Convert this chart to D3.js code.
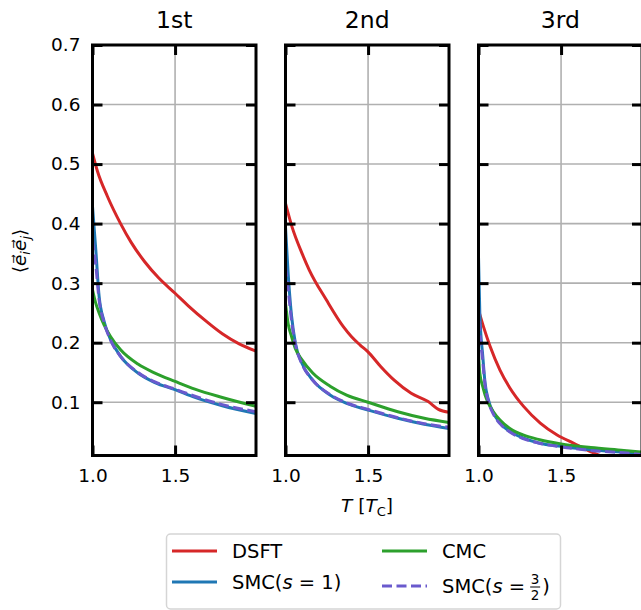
<!DOCTYPE html>
<html>
<head>
<meta charset="utf-8">
<script src="https://cdn.jsdelivr.net/npm/d3@7"></script>
<style>
  body { margin: 0; background: #fff; }
  text { font-family: "DejaVu Sans", sans-serif; fill: #000; }
</style>
</head>
<body>
<div id="chart"></div>
<script>
// panel titles and legend entries
var panels = ["1st", "2nd", "3rd"];
var seriesNames = ["DSFT", "SMC(s=1)", "CMC", "SMC(s=3/2)"];
var seriesColors = ["#d62728", "#1f77b4", "#2ca02c", "#6a5acd"];
var yTicks = [0.1, 0.2, 0.3, 0.4, 0.5, 0.6, 0.7];
var xTicks = [1.0, 1.5];

// values, [T, <e_i e_j>]
var dsft1 = [[1.0,0.518],[1.03,0.488],[1.09,0.446],[1.17,0.40],[1.235,0.368],[1.316,0.336],[1.40,0.309],[1.5,0.283],[1.58,0.262],[1.684,0.237],[1.786,0.215],[1.888,0.198],[1.99,0.186]];
var smcA1 = [[1.0,0.429],[1.02,0.356],[1.04,0.278],[1.07,0.236],[1.11,0.205],[1.17,0.177],[1.275,0.149],[1.378,0.133],[1.5,0.121],[1.62,0.108],[1.786,0.094],[1.99,0.081]];
var cmc1 = [[1.0,0.289],[1.02,0.266],[1.04,0.25],[1.07,0.23],[1.11,0.21],[1.17,0.188],[1.275,0.164],[1.378,0.149],[1.5,0.135],[1.62,0.122],[1.786,0.108],[1.99,0.093]];
var smcB1 = [[1.0,0.372],[1.02,0.33],[1.04,0.272],[1.07,0.234],[1.11,0.204],[1.17,0.177],[1.275,0.150],[1.378,0.134],[1.5,0.122],[1.62,0.110],[1.786,0.096],[1.99,0.084]];

var dsft2 = [[1.0,0.434],[1.04,0.394],[1.10,0.35],[1.144,0.322],[1.247,0.272],[1.35,0.227],[1.40,0.210],[1.452,0.196],[1.498,0.185],[1.576,0.160],[1.658,0.137],[1.761,0.115],[1.864,0.101],[1.926,0.088],[1.99,0.083]];
var smcA2 = [[1.0,0.394],[1.016,0.316],[1.037,0.244],[1.06,0.199],[1.10,0.165],[1.165,0.137],[1.27,0.112],[1.37,0.098],[1.5,0.087],[1.68,0.073],[1.84,0.063],[1.99,0.056]];
var cmc2 = [[1.0,0.266],[1.016,0.232],[1.037,0.21],[1.06,0.19],[1.10,0.171],[1.165,0.149],[1.27,0.127],[1.37,0.112],[1.5,0.10],[1.68,0.084],[1.84,0.073],[1.99,0.066]];
var smcB2 = [[1.0,0.327],[1.016,0.29],[1.037,0.236],[1.06,0.197],[1.10,0.164],[1.165,0.137],[1.27,0.113],[1.37,0.099],[1.5,0.088],[1.68,0.074],[1.84,0.064],[1.99,0.058]];

var dsft3 = [[1.0,0.255],[1.03,0.227],[1.07,0.194],[1.13,0.154],[1.19,0.124],[1.273,0.093],[1.374,0.065],[1.476,0.045],[1.577,0.031],[1.678,0.017],[1.75,0.009],[1.85,0.004]];
var smcA3 = [[1.0,0.345],[1.008,0.25],[1.026,0.177],[1.04,0.132],[1.06,0.104],[1.09,0.082],[1.13,0.065],[1.19,0.051],[1.27,0.040],[1.37,0.031],[1.5,0.026],[1.68,0.020],[1.88,0.016],[1.99,0.013]];
var cmc3 = [[1.0,0.182],[1.008,0.149],[1.026,0.126],[1.04,0.112],[1.06,0.098],[1.09,0.084],[1.13,0.070],[1.19,0.056],[1.27,0.045],[1.37,0.037],[1.5,0.030],[1.68,0.024],[1.88,0.019],[1.99,0.016]];
var smcB3 = [[1.0,0.261],[1.008,0.22],[1.026,0.168],[1.04,0.128],[1.06,0.101],[1.09,0.080],[1.13,0.064],[1.19,0.050],[1.27,0.039],[1.37,0.031],[1.5,0.025],[1.68,0.019],[1.88,0.015],[1.99,0.012]];

var panelData = [
  [dsft1, smcA1, cmc1, smcB1],
  [dsft2, smcA2, cmc2, smcB2],
  [dsft3, smcA3, cmc3, smcB3]
];

var svgWidth = 641, svgHeight = 610;
var panelLefts = [92.5, 285.5, 478.5];
var panelW = 163.5;
var plotTop = 45, plotBottom = 455.5;
var tickLen = 10;
var fontSize = "18.5px";
var legendFont = "19.5px";

var svg = d3.select("#chart").append("svg")
  .attr("width", svgWidth)
  .attr("height", svgHeight);

var y = d3.scaleLinear().domain([0.0105, 0.7]).range([plotBottom, plotTop]);

panels.forEach(function(title, p) {
  var left = panelLefts[p];
  var x = d3.scaleLinear().domain([1.0, 1.99]).range([left, left + panelW]);
  var g = svg.append("g");

  // clip for data
  svg.append("clipPath").attr("id", "clip" + p)
    .append("rect")
    .attr("x", left).attr("y", plotTop)
    .attr("width", panelW).attr("height", plotBottom - plotTop);

  // grid
  g.selectAll("line.hgrid").data(yTicks).enter().append("line")
    .attr("x1", left).attr("x2", left + panelW)
    .attr("y1", d => y(d)).attr("y2", d => y(d))
    .attr("stroke", "#b0b0b0").attr("stroke-width", 1.6);
  g.selectAll("line.vgrid").data(xTicks).enter().append("line")
    .attr("x1", d => x(d)).attr("x2", d => x(d))
    .attr("y1", plotTop).attr("y2", plotBottom)
    .attr("stroke", "#b0b0b0").attr("stroke-width", 1.6);

  // data lines
  var line = d3.line()
    .x(d => x(d[0]))
    .y(d => y(d[1]))
    .curve(d3.curveMonotoneX);
  var lg = g.append("g").attr("clip-path", "url(#clip" + p + ")");
  panelData[p].forEach(function(series, s) {
    lg.append("path")
      .datum(series)
      .attr("d", line)
      .attr("fill", "none")
      .attr("stroke", seriesColors[s])
      .attr("stroke-width", 3)
      .attr("stroke-linejoin", "round")
      .attr("stroke-dasharray", s == 3 ? "10,4.5" : null);
  });

  // axes with inward ticks
  var leftAxis = d3.axisLeft(y).tickValues(yTicks).tickSizeInner(-tickLen).tickSizeOuter(0).tickPadding(12)
    .tickFormat(p == 0 ? d3.format(".1f") : "");
  var rightAxis = d3.axisRight(y).tickValues(yTicks).tickSizeInner(-tickLen).tickSizeOuter(0).tickFormat("");
  var bottomAxis = d3.axisBottom(x).tickValues(xTicks).tickSizeInner(-tickLen).tickSizeOuter(0).tickPadding(13)
    .tickFormat(d3.format(".1f"));
  var topAxis = d3.axisTop(x).tickValues(xTicks).tickSizeInner(-tickLen).tickSizeOuter(0).tickFormat("");

  var axes = [
    g.append("g").attr("transform", `translate(${left},0)`).call(leftAxis),
    g.append("g").attr("transform", `translate(${left + panelW},0)`).call(rightAxis),
    g.append("g").attr("transform", `translate(0,${plotBottom})`).call(bottomAxis),
    g.append("g").attr("transform", `translate(0,${plotTop})`).call(topAxis)
  ];
  axes.forEach(function(a) {
    a.attr("font-size", null).attr("font-family", null);
    a.select(".domain").remove();
    a.selectAll(".tick line").attr("stroke", "#000").attr("stroke-width", 3);
    a.selectAll(".tick text").style("font-size", fontSize);
  });

  // spines
  g.append("rect")
    .attr("x", left).attr("y", plotTop)
    .attr("width", panelW).attr("height", plotBottom - plotTop)
    .attr("fill", "none").attr("stroke", "#000").attr("stroke-width", 3);

  // title
  g.append("text")
    .attr("x", left + panelW / 2).attr("y", 28)
    .attr("text-anchor", "middle")
    .style("font-size", "23.5px")
    .text(title);
});

// x axis label
var xl = svg.append("text")
  .attr("x", 367).attr("y", 512)
  .attr("text-anchor", "middle")
  .style("font-size", fontSize);
xl.append("tspan").attr("font-style", "italic").text("T");
xl.append("tspan").text(" [");
xl.append("tspan").attr("font-style", "italic").text("T");
xl.append("tspan").style("font-size", "13px").attr("dy", 4).text("C");
xl.append("tspan").attr("dy", -4).text("]");

// y axis label
var yl = svg.append("text")
  .attr("transform", "translate(26,251) rotate(-90)")
  .attr("text-anchor", "middle")
  .style("font-size", fontSize);
yl.append("tspan").text("\u27E8");
yl.append("tspan").attr("font-style", "italic").text("e\u20D7");
yl.append("tspan").attr("font-style", "italic").style("font-size", "13px").attr("dy", 4).text("i");
yl.append("tspan").attr("font-style", "italic").attr("dy", -4).text("e\u20D7");
yl.append("tspan").attr("font-style", "italic").style("font-size", "13px").attr("dy", 4).text("j");
yl.append("tspan").attr("dy", -4).text("\u27E9");

// legend
var legend = svg.append("g");
legend.append("rect")
  .attr("x", 166.5).attr("y", 534)
  .attr("width", 394).attr("height", 75)
  .attr("rx", 4)
  .attr("fill", "#fff").attr("stroke", "#d5d5d5").attr("stroke-width", 1.5);

var legendPos = [[172, 551], [172, 582], [382, 551], [382, 586]];
seriesNames.forEach(function(name, i) {
  var lx = legendPos[i][0], ly = legendPos[i][1];
  legend.append("line")
    .attr("x1", lx).attr("x2", lx + 45)
    .attr("y1", ly).attr("y2", ly)
    .attr("stroke", seriesColors[i]).attr("stroke-width", 3)
    .attr("stroke-dasharray", i == 3 ? "10,4.5" : null);
  var t = legend.append("text")
    .attr("x", lx + 60).attr("y", ly + 7)
    .style("font-size", legendFont);
  if (i == 0) t.text("DSFT");
  else if (i == 2) t.text("CMC");
  else {
    t.append("tspan").text("SMC(");
    t.append("tspan").attr("font-style", "italic").text("s");
    t.append("tspan").text(" =");
    if (i == 1) {
      t.append("tspan").text(" 1)");
    } else {
      var fx = lx + 60 + t.node().getComputedTextLength() + 4;
      legend.append("text").attr("x", fx + 6).attr("y", ly - 2)
        .attr("text-anchor", "middle").style("font-size", "13.5px").text("3");
      legend.append("line").attr("x1", fx + 1).attr("x2", fx + 11)
        .attr("y1", ly + 1).attr("y2", ly + 1)
        .attr("stroke", "#000").attr("stroke-width", 1);
      legend.append("text").attr("x", fx + 6).attr("y", ly + 14)
        .attr("text-anchor", "middle").style("font-size", "13.5px").text("2");
      legend.append("text").attr("x", fx + 13).attr("y", ly + 7)
        .style("font-size", legendFont).text(")");
    }
  }
});
</script>
</body>
</html>
